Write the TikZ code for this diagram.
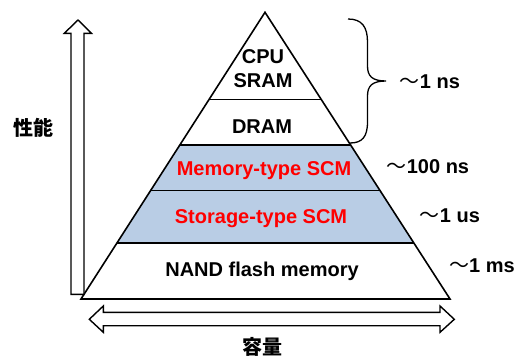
\documentclass[tikz,border=0pt]{standalone}
\usepackage{fontspec}
\setmainfont{Liberation Sans}
\newfontfamily\cjk{Noto Sans CJK JP}
\usetikzlibrary{calc}
\definecolor{bandblue}{HTML}{B9CDE5}
\definecolor{scmred}{HTML}{FF0000}
\tikzset{
  layertext/.style={font=\bfseries\fontsize{20}{24}\selectfont, align=center, inner sep=0pt},
  timetext/.style={font=\bfseries\fontsize{20}{24}\selectfont, inner sep=0pt},
  cjktext/.style={font=\cjk\bfseries\fontsize{20}{24}\selectfont, inner sep=0pt},
  edge/.style={line width=1.6pt},
  hollow/.style={line width=1.4pt, fill=white, line join=miter},
}
\newcommand{\wave}{{\cjk\mdseries ～}}
\begin{document}
\begin{tikzpicture}[x=1pt,y=-1pt]
\useasboundingbox (0,0) rectangle (524,356);
% pyramid corners
\coordinate (T) at (265,12.3);
\coordinate (BL) at (81,299);
\coordinate (BR) at (450,299);
\coordinate (L1) at ($(T)!0.304!(BL)$);
\coordinate (R1) at ($(T)!0.304!(BR)$);
\coordinate (L2) at ($(T)!0.462!(BL)$);
\coordinate (R2) at ($(T)!0.462!(BR)$);
\coordinate (L3) at ($(T)!0.622!(BL)$);
\coordinate (R3) at ($(T)!0.622!(BR)$);
\coordinate (L4) at ($(T)!0.804!(BL)$);
\coordinate (R4) at ($(T)!0.804!(BR)$);
% blue band
\fill[bandblue] (L2) -- (R2) -- (R4) -- (L4) -- cycle;
% triangle and layer lines
\draw[edge, line join=miter] (T) -- (BR) -- (BL) -- cycle;
\draw[edge] (L1) -- (R1);
\draw[edge] (L2) -- (R2);
\draw[edge] (L3) -- (R3);
\draw[edge] (L4) -- (R4);
% layer texts
\node[layertext] (cpu) at (263,69) {CPU\\SRAM};
\node[layertext] (dram) at (262,127) {DRAM};
\node[layertext, text=scmred] (mscm) at (264,171) {Memory-type SCM};
\node[layertext, text=scmred] (sscm) at (261,219) {Storage-type SCM};
\node[layertext] (nand) at (262,271) {NAND flash memory};
% up arrow (performance)
\draw[hollow] (71,294.3) -- (71,33.3) -- (64.3,33.3) -- (78,20) -- (91.5,33.3) -- (84,33.3) -- (84,294.3) -- cycle;
\node[cjktext] (perf) at (33,128) {性能};
% double arrow (capacity)
\draw[hollow] (89.3,319.3) -- (103.3,306) -- (103.3,312.3) -- (440,312.3) -- (440,306) -- (454.3,319.3)
  -- (440,332.3) -- (440,325.7) -- (103.3,325.7) -- (103.3,332.3) -- cycle;
\node[cjktext] (cap) at (262,347) {容量};
% brace
\coordinate (bt) at (348,19);
\coordinate (bm) at (386,81);
\coordinate (bb) at (350,143);
\draw[line width=1.3pt] (bt) .. controls (362,19) and (367.5,27) .. (367.5,42) -- (367.5,66)
  .. controls (367.5,76) and (372,81) .. (bm)
  .. controls (372,81) and (367.5,86) .. (367.5,96) -- (367.5,122)
  .. controls (367.5,137) and (362,143) .. (bb);
% latency labels
\node[timetext] (t1) at (430,82) {\wave 1 ns};
\node[timetext] (t2) at (428,167) {\wave 100 ns};
\node[timetext] (t3) at (450,216) {\wave 1 us};
\node[timetext] (t4) at (482,266) {\wave 1 ms};
\end{tikzpicture}
\end{document}
